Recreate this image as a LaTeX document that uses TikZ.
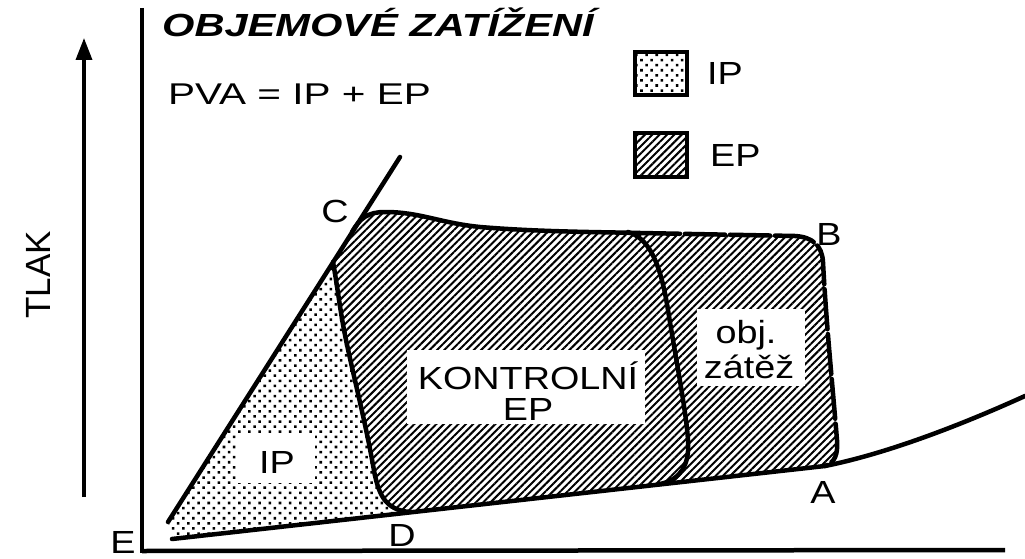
\documentclass[tikz,border=0pt]{standalone}
\usepackage{fontspec}
\setmainfont{Liberation Sans}
\usetikzlibrary{patterns.meta,arrows.meta}
\newcommand{\stx}[1]{\scalebox{1.18}[1]{#1}}
\begin{document}
\begin{tikzpicture}[x=1pt,y=-1pt,
  thick line/.style={line width=4.5pt, line cap=round, line join=round},
  dotfill/.style={pattern={Dots[radius=1.8pt,distance=7.2pt,angle=45]}},
  hatchfill/.style={pattern={Lines[angle=45,distance=5.2pt,line width=2pt]}},
  lbl/.style={font=\fontsize{32}{34}\selectfont, inner sep=0pt, anchor=base},
  whitebox/.style={fill=white, inner sep=0pt}]
\useasboundingbox (0,0) rectangle (1025,559);
% stippled IP region
\fill[dotfill] (168,522) -- (333,262)
  .. controls (338,290) and (340,310) .. (345,335)
  .. controls (352,370) and (365,420) .. (373,465)
  .. controls (378,495) and (385,510) .. (410,512)
  -- (172,539) -- cycle;
% hatched EP region
\fill[hatchfill] (333,262) -- (352,232)
  .. controls (360,218) and (368,212) .. (385,212)
  .. controls (420,212) and (440,223) .. (480,227)
  .. controls (540,232) and (600,232) .. (640,233)
  -- (795,236) .. controls (812,237) and (822,245) .. (823,262)
  .. controls (826,320) and (832,380) .. (837,440)
  .. controls (838,455) and (835,462) .. (825,466)
  -- (410,512)
  .. controls (385,510) and (378,495) .. (373,465)
  .. controls (365,420) and (352,370) .. (345,335)
  .. controls (340,310) and (338,290) .. (333,262) -- cycle;
% white label boxes
\node[whitebox, minimum width=78pt, minimum height=49pt] (ipbox) at (276,458) {};
\node[whitebox, minimum width=238pt, minimum height=74pt] (kbox) at (526,387) {};
\node[whitebox, minimum width=108pt, minimum height=77pt] (obox) at (751,347) {};
% boundaries
\draw[thick line] (352,232)
  .. controls (360,218) and (368,212) .. (385,212)
  .. controls (420,212) and (440,223) .. (480,227)
  .. controls (540,232) and (600,232) .. (640,233);
\draw[thick line, dash pattern=on 40pt off 5pt] (640,233)
  -- (795,236) .. controls (812,237) and (822,245) .. (823,262)
  .. controls (826,320) and (832,380) .. (837,440)
  .. controls (838,455) and (835,462) .. (825,466);
\draw[thick line] (333,262)
  .. controls (338,290) and (340,310) .. (345,335)
  .. controls (352,370) and (365,420) .. (373,465)
  .. controls (378,495) and (385,510) .. (410,512);
\draw[thick line] (628,232) .. controls (648,238) and (660,260) .. (668,310)
  .. controls (676,360) and (686,410) .. (688,440)
  .. controls (690,465) and (680,480) .. (660,484);
% E-C line and pressure-volume curve
\coordinate (Elow) at (168,522);
\coordinate (Ctop) at (400,157);
\draw[thick line] (Elow) -- (Ctop);
\coordinate (Ebot) at (172,539);
\coordinate (Apt) at (825,466);
\coordinate (Cend) at (1025,396);
\draw[thick line] (Ebot) -- (Apt) .. controls (880,455) and (950,430) .. (Cend);
% axes
\coordinate (Otop) at (142,8);
\coordinate (Oorig) at (142,551);
\coordinate (Xend) at (1005,550);
\draw[line width=4.5pt] (Otop) -- (142,553);
\draw[line width=4.5pt] (Oorig) -- (Xend);
\coordinate (Pbot) at (84,497);
\coordinate (Ptop) at (84,38);
\draw[line width=3.5pt, -{Triangle[length=22pt,width=16pt]}] (Pbot) -- (Ptop);
\node[inner sep=0pt, rotate=90, font=\fontsize{35}{37}\selectfont] (tlak) at (38,275) {TLAK};
% texts
\node[inner sep=0pt, anchor=base west, font=\fontsize{32}{34}\selectfont\bfseries\itshape] (title) at (162,37) {\scalebox{1.3}[1]{OBJEMOVÉ ZATÍŽENÍ}};
\node[inner sep=0pt, anchor=base west, font=\fontsize{30}{32}\selectfont] (pva) at (168,105) {\scalebox{1.35}[1]{PVA = IP + EP}};
\node[lbl] (iplbl) at (277,473) {\stx{IP}};
\node[lbl] (klbl) at (528,389) {\stx{KONTROLNÍ}};
\node[lbl] (eplbl) at (528,420) {\stx{EP}};
\node[lbl] (objlbl) at (746,343) {\stx{obj.}};
\node[lbl] (zatlbl) at (749,378) {\stx{zátěž}};
\node[lbl] (Alabel) at (823,503) {\stx{A}};
\node[lbl] (Blabel) at (829,245) {\stx{B}};
\node[lbl] (Clabel) at (335,222) {\stx{C}};
\node[lbl] (Dlabel) at (402,546) {\stx{D}};
\node[lbl] (Elabel) at (123,553) {\stx{E}};
% legend
\draw[line width=4pt, dotfill] (635,52) rectangle (687,95);
\draw[line width=4pt, hatchfill] (635,133) rectangle (687,177);
\node[lbl, anchor=base west] (legip) at (707,85) {\stx{IP}};
\node[lbl, anchor=base west] (legep) at (710,166) {\stx{EP}};
\end{tikzpicture}
\end{document}
